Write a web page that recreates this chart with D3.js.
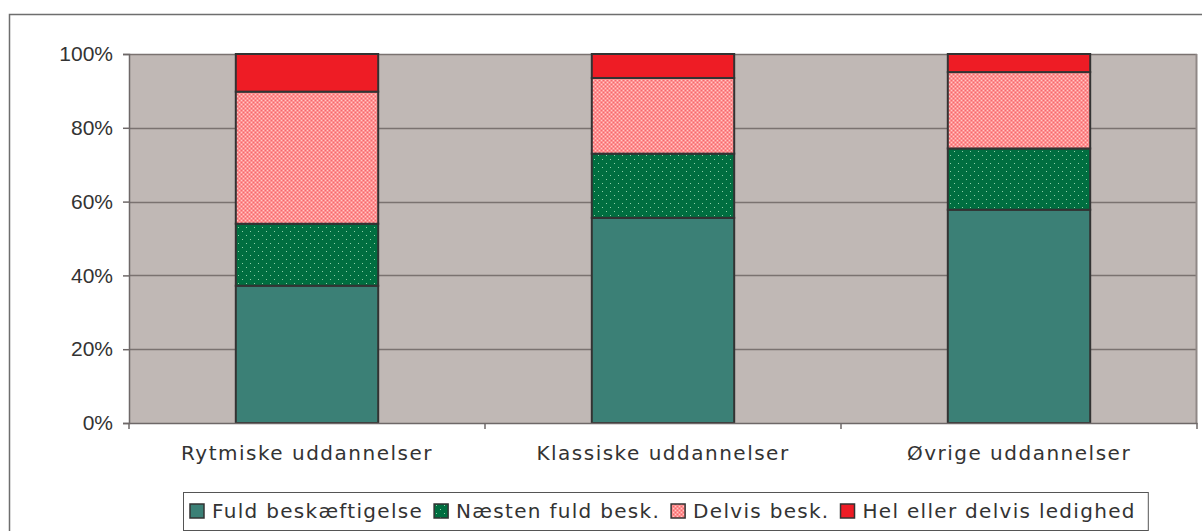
<!DOCTYPE html>
<html>
<head>
<meta charset="utf-8">
<script src="https://cdn.jsdelivr.net/npm/d3@7"></script>
<style>
  body { margin: 0; background: #fff; }
  svg { display: block; }
</style>
</head>
<body>
<div id="chart"></div>
<script>
// categories and series (share of graduates, %)
var categories = ["Rytmiske uddannelser", "Klassiske uddannelser", "Øvrige uddannelser"];
var seriesNames = ["Fuld beskæftigelse", "Næsten fuld besk.", "Delvis besk.", "Hel eller delvis ledighed"];
var fuld    = [37.2, 55.6, 57.8];
var naesten = [16.8, 17.4, 16.6];
var delvis  = [35.8, 20.5, 20.7];
var ledig   = [10.2, 6.5, 4.9];
var yTicks = [0, 20, 40, 60, 80, 100];

var W = 1202, H = 531;
var margin = {top: 54, right: 5, bottom: 108, left: 129};
var width = W - margin.left - margin.right,
    height = H - margin.top - margin.bottom;

var svg = d3.select("#chart").append("svg")
    .attr("width", W)
    .attr("height", H);

var defs = svg.append("defs");
// dotted dark green
var p1 = defs.append("pattern").attr("id", "dots")
    .attr("width", 8).attr("height", 8).attr("patternUnits", "userSpaceOnUse");
p1.append("rect").attr("width", 8).attr("height", 8).attr("fill", "#006e40");
p1.append("rect").attr("x", 1).attr("y", 1).attr("width", 1).attr("height", 1).attr("fill", "#8fd0a8");
p1.append("rect").attr("x", 5).attr("y", 5).attr("width", 1).attr("height", 1).attr("fill", "#8fd0a8");
// fine pink checks
var p2 = defs.append("pattern").attr("id", "checks")
    .attr("width", 4).attr("height", 4).attr("patternUnits", "userSpaceOnUse");
p2.append("rect").attr("width", 4).attr("height", 4).attr("fill", "#ff9090");
p2.append("rect").attr("x", 0).attr("y", 0).attr("width", 1).attr("height", 1).attr("fill", "#f06a70");
p2.append("rect").attr("x", 2).attr("y", 2).attr("width", 1).attr("height", 1).attr("fill", "#f06a70");
p2.append("rect").attr("x", 2).attr("y", 0).attr("width", 1).attr("height", 1).attr("fill", "#ffc8c8");
p2.append("rect").attr("x", 0).attr("y", 2).attr("width", 1).attr("height", 1).attr("fill", "#ffc8c8");

var fills = ["#3b8076", "url(#dots)", "url(#checks)", "#ee1c25"];

// outer chart frame
svg.append("rect")
    .attr("x", 9.5).attr("y", 14.5)
    .attr("width", W + 10).attr("height", H + 10)
    .attr("fill", "none").attr("stroke", "#6e6e6e").attr("stroke-width", 1.5);

var g = svg.append("g")
    .attr("transform", "translate(" + margin.left + "," + margin.top + ")");

var x = d3.scaleBand().domain(categories).range([0, width]).paddingInner(0).paddingOuter(0);
var y = d3.scaleLinear().domain([0, 100]).range([height, 0]);

// plot background
g.append("rect")
    .attr("width", width).attr("height", height)
    .attr("fill", "#c0b8b5");

// gridlines
g.selectAll(".grid").data(yTicks.slice(1)).enter().append("line")
    .attr("x1", 0).attr("x2", width)
    .attr("y1", function(d) { return Math.round(y(d)) + 0.5; })
    .attr("y2", function(d) { return Math.round(y(d)) + 0.5; })
    .attr("stroke", "#7a7270").attr("stroke-width", 1.5);

// right border of plot area
g.append("line")
    .attr("x1", width - 0.5).attr("x2", width - 0.5)
    .attr("y1", 0).attr("y2", height)
    .attr("stroke", "#8f8886").attr("stroke-width", 2);

// stacked bars
var table = categories.map(function(c, i) {
    return {cat: c, s0: fuld[i], s1: naesten[i], s2: delvis[i], s3: ledig[i]};
});
var stack = d3.stack().keys(["s0", "s1", "s2", "s3"]);
var layers = stack(table);
var barW = x.bandwidth() * 0.4;

layers.forEach(function(layer, li) {
    g.selectAll(".bar" + li).data(layer).enter().append("rect")
        .attr("x", function(d) { return x(d.data.cat) + (x.bandwidth() - barW) / 2; })
        .attr("y", function(d) { return y(d[1]); })
        .attr("width", barW)
        .attr("height", function(d) { return y(d[0]) - y(d[1]); })
        .attr("fill", fills[li])
        .attr("stroke", "#333333").attr("stroke-width", 2);
});

// y axis
var yAxis = g.append("g")
    .call(d3.axisLeft(y).tickValues(yTicks).tickFormat(function(d) { return d + "%"; }).tickSize(6).tickPadding(10));
yAxis.select(".domain").attr("stroke", "#6e6868").attr("stroke-width", 1.5);
yAxis.selectAll(".tick line").attr("stroke", "#6e6868").attr("stroke-width", 1.5);
yAxis.selectAll("text")
    .attr("fill", "#333")
    .style("font-family", "'Liberation Sans', Arial, sans-serif")
    .style("font-size", "21px");

// x axis
var xAxis = g.append("g")
    .attr("transform", "translate(0," + height + ")")
    .call(d3.axisBottom(x).tickSize(0));
xAxis.select(".domain").attr("stroke", "#6e6868").attr("stroke-width", 1.5);
xAxis.selectAll("text")
    .attr("y", 37).attr("dy", 0)
    .attr("fill", "#333")
    .style("font-family", "'DejaVu Sans', Verdana, sans-serif")
    .style("font-size", "20px")
    .style("letter-spacing", "1.5px");
// tick marks at category boundaries
var edges = [0, width / 3, 2 * width / 3, width];
g.selectAll(".xtick").data(edges).enter().append("line")
    .attr("x1", function(d) { return d; })
    .attr("x2", function(d) { return d; })
    .attr("y1", height).attr("y2", height + 6)
    .attr("stroke", "#6e6868").attr("stroke-width", 1.5);

// legend
var legend = svg.append("g").attr("transform", "translate(183,492)");
var legBox = legend.append("rect")
    .attr("x", 0.5).attr("y", 0.5)
    .attr("height", 38)
    .attr("fill", "#fff").attr("stroke", "#555").attr("stroke-width", 1);
var lx = 7;
seriesNames.forEach(function(name, i) {
    legend.append("rect")
        .attr("x", lx).attr("y", 12).attr("width", 14).attr("height", 14)
        .attr("fill", fills[i]).attr("stroke", "#333").attr("stroke-width", 1.5);
    var t = legend.append("text")
        .attr("x", lx + 22).attr("y", 26)
        .attr("fill", "#333")
        .style("font-family", "'DejaVu Sans', Verdana, sans-serif")
        .style("font-size", "20px")
        .style("letter-spacing", "1.3px")
        .text(name);
    lx += 22 + t.node().getComputedTextLength() + (i < seriesNames.length - 1 ? 11 : 12);
});
legBox.attr("width", lx);
</script>
</body>
</html>
